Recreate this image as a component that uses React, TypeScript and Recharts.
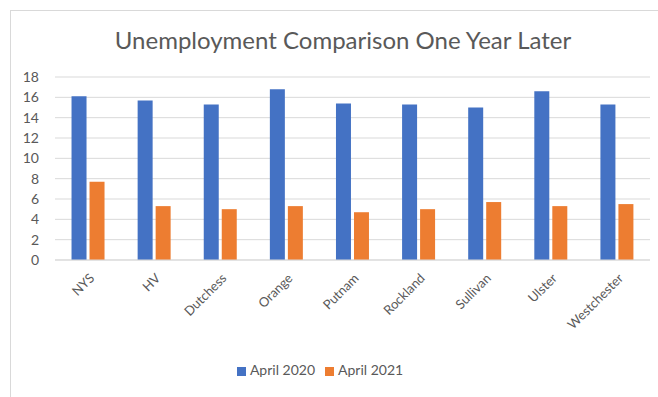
import { BarChart, Bar, XAxis, YAxis, CartesianGrid, Legend } from 'recharts';

const counties = ['NYS', 'HV', 'Dutchess', 'Orange', 'Putnam', 'Rockland', 'Sullivan', 'Ulster', 'Westchester'];
const april2020 = [16.1, 15.7, 15.3, 16.8, 15.4, 15.3, 15.0, 16.6, 15.3];
const april2021 = [7.7, 5.3, 5.0, 5.3, 4.7, 5.0, 5.7, 5.3, 5.5];
const yTicks = [0, 2, 4, 6, 8, 10, 12, 14, 16, 18];

const data = counties.map((name, i) => ({
  name,
  a2020: april2020[i],
  a2021: april2021[i],
}));

const FONT = 'Lato, "Open Sans", sans-serif';
const TEXT = '#595959';

function AngledTick({ x, y, payload }: any) {
  return (
    <g transform={`translate(${x},${y + 4})`}>
      <text
        transform="rotate(-45)"
        textAnchor="end"
        dy={10}
        fontSize={13}
        fill={TEXT}
        fontFamily={FONT}
      >
        {payload.value}
      </text>
    </g>
  );
}

export default function App() {
  return (
    <div style={{ position: 'absolute', left: 0, top: 0, width: 658, height: 397, background: '#fff' }}>
      <div
        style={{
          position: 'absolute',
          left: 10,
          top: 10,
          width: 660,
          height: 400,
          border: '1px solid #d9d9d9',
          boxSizing: 'border-box',
        }}
      />
      <div
        style={{
          position: 'absolute',
          left: 0,
          top: 25,
          width: 686,
          textAlign: 'center',
          fontFamily: FONT,
          fontSize: 24,
          color: TEXT,
        }}
      >
        Unemployment Comparison One Year Later
      </div>
      <div style={{ position: 'absolute', left: 0, top: 0 }}>
        <BarChart
          width={658}
          height={397}
          data={data}
          margin={{ top: 77, right: 8, left: 0, bottom: 0 }}
          barCategoryGap="25%"
          barGap={3}
        >
          <CartesianGrid vertical={false} stroke="#d9d9d9" />
          <XAxis
            dataKey="name"
            interval={0}
            tick={<AngledTick />}
            tickLine={false}
            axisLine={{ stroke: '#d9d9d9' }}
            height={120}
          />
          <YAxis
            domain={[0, 18]}
            ticks={yTicks}
            interval={0}
            width={55}
            axisLine={false}
            tickLine={false}
            tick={{ fontSize: 14, fill: TEXT, fontFamily: FONT, dx: -8 }}
          />
          <Legend
            verticalAlign="bottom"
            iconType="square"
            iconSize={9}
            wrapperStyle={{ fontFamily: FONT, fontSize: 14, color: TEXT, bottom: 19 }}
            formatter={(v: string) => <span style={{ color: TEXT }}>{v}</span>}
          />
          <Bar dataKey="a2020" name="April 2020" fill="#4472c4" isAnimationActive={false} />
          <Bar dataKey="a2021" name="April 2021" fill="#ed7d31" isAnimationActive={false} />
        </BarChart>
      </div>
    </div>
  );
}
